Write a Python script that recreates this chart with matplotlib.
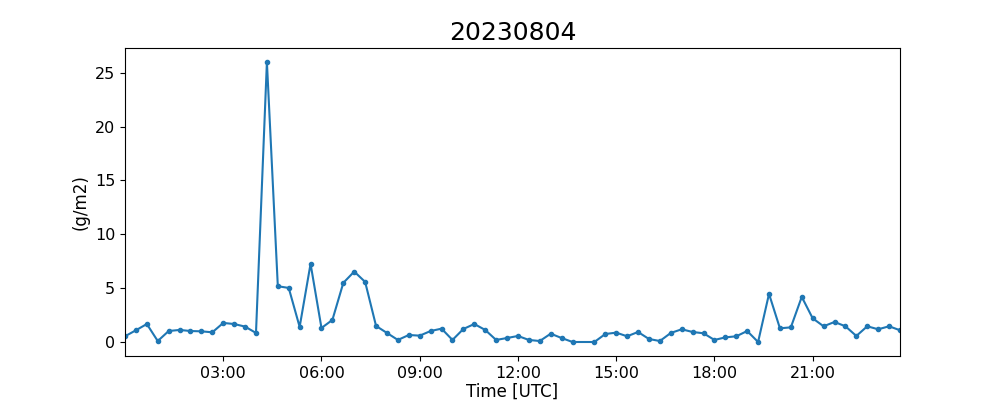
import datetime as dt
import matplotlib
matplotlib.use("Agg")
import matplotlib.pyplot as plt
import matplotlib.dates as mdates

# Observation times (UTC, 20 min steps, 14:00 missing)
times = ["00:00", "00:20", "00:40", "01:00", "01:20", "01:40", "02:00", "02:20", "02:40",
         "03:00", "03:20", "03:40", "04:00", "04:20", "04:40", "05:00", "05:20", "05:40",
         "06:00", "06:20", "06:40", "07:00", "07:20", "07:40", "08:00", "08:20", "08:40",
         "09:00", "09:20", "09:40", "10:00", "10:20", "10:40", "11:00", "11:20", "11:40",
         "12:00", "12:20", "12:40", "13:00", "13:20", "13:40", "14:20", "14:40",
         "15:00", "15:20", "15:40", "16:00", "16:20", "16:40", "17:00", "17:20", "17:40",
         "18:00", "18:20", "18:40", "19:00", "19:20", "19:40", "20:00", "20:20", "20:40",
         "21:00", "21:20", "21:40", "22:00", "22:20", "22:40", "23:00", "23:20", "23:40"]

values = [0.53, 1.09, 1.67, 0.09, 1.02, 1.12, 1.02, 0.99, 0.90,
          1.77, 1.67, 1.43, 0.84, 26.0, 5.18, 5.02, 1.40, 7.26,
          1.30, 2.05, 5.49, 6.54, 5.58, 1.49, 0.84, 0.19, 0.65,
          0.59, 1.02, 1.24, 0.19, 1.21, 1.67, 1.12, 0.19, 0.37,
          0.56, 0.19, 0.09, 0.77, 0.37, 0.0, 0.0, 0.74,
          0.87, 0.53, 0.93, 0.28, 0.09, 0.84, 1.18, 0.93, 0.81,
          0.19, 0.43, 0.53, 1.02, 0.0, 4.47, 1.27, 1.36, 4.19,
          2.2, 1.46, 1.86, 1.46, 0.56, 1.46, 1.18, 1.46, 1.09]

date_str = "20230804"
x = [dt.datetime.strptime(date_str + " " + t, "%Y%m%d %H:%M") for t in times]

fig, ax = plt.subplots(figsize=(10, 4), dpi=100)
ax.plot(x, values, marker="o", markersize=3, color="tab:blue")

ax.set_xlim(x[0], x[-1])
ax.xaxis.set_major_locator(mdates.HourLocator(byhour=range(3, 24, 3)))
ax.xaxis.set_major_formatter(mdates.DateFormatter("%H:%M"))

ax.set_title(date_str, fontsize=18)
ax.set_xlabel("Time [UTC]", fontsize=12, labelpad=1.5)
ax.set_ylabel("(g/m2)", fontsize=12)
ax.tick_params(labelsize=11.5)

plt.savefig("out.png", dpi=100)
plt.close()
